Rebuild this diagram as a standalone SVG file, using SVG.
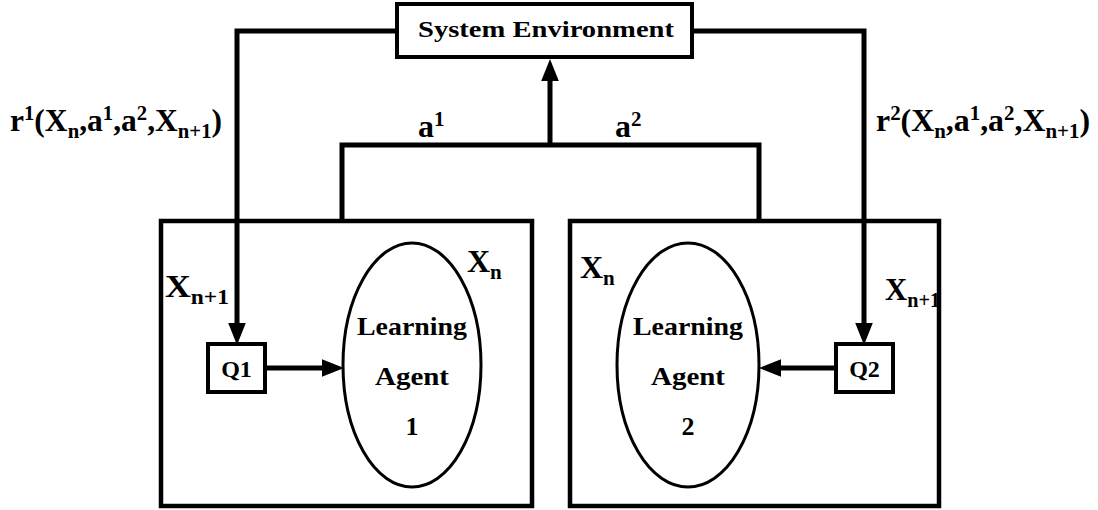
<svg xmlns="http://www.w3.org/2000/svg" width="1098" height="510" viewBox="0 0 1098 510">
<style>
text{font-family:"Liberation Serif","Times New Roman",serif;font-weight:bold;fill:#000}
.box{fill:none;stroke:#000;stroke-width:4.5}
.sm{fill:#fff;stroke:#000;stroke-width:4}
.ell{fill:none;stroke:#000;stroke-width:3}
.wire{fill:none;stroke:#000;stroke-width:5;stroke-linejoin:miter}
</style>
<defs>
<marker id="ah" markerUnits="userSpaceOnUse" markerWidth="22" markerHeight="18" viewBox="0 0 20 16" refX="10" refY="8" orient="auto">
<path d="M0,0 L20,8 L0,16 z" fill="#000"/>
</marker>
</defs>
<g id="env">
<rect x="397" y="4" width="295" height="53" fill="#fff" stroke="#000" stroke-width="4"/>
<text x="546" y="37" font-size="23" text-anchor="middle" textLength="256" lengthAdjust="spacingAndGlyphs">System Environment</text>
</g>
<g id="agent1">
<text x="165" y="297" font-size="32" textLength="64" lengthAdjust="spacingAndGlyphs">X<tspan font-size="21" dy="7">n+1</tspan></text>
<text x="467" y="272" font-size="32">X<tspan font-size="21" dy="7">n</tspan></text>
<rect class="box" x="161" y="221" width="371" height="285"/>
<ellipse class="ell" cx="412" cy="365" rx="69" ry="122"/>
<text x="412" y="335" font-size="26" text-anchor="middle" textLength="110" lengthAdjust="spacingAndGlyphs">Learning</text>
<text x="412" y="385" font-size="26" text-anchor="middle" textLength="74" lengthAdjust="spacingAndGlyphs">Agent</text>
<text x="412" y="435" font-size="26" text-anchor="middle">1</text>
</g>
<g id="q1">
<rect class="sm" x="208" y="344" width="57" height="48"/>
<text x="236.5" y="377" font-size="24" text-anchor="middle">Q1</text>
</g>
<g id="agent2">
<text x="580" y="278" font-size="32">X<tspan font-size="21" dy="7">n</tspan></text>
<text x="885" y="300" font-size="32" textLength="55" lengthAdjust="spacingAndGlyphs">X<tspan font-size="21" dy="7">n+1</tspan></text>
<rect class="box" x="570" y="221" width="369" height="285"/>
<ellipse class="ell" cx="688" cy="365" rx="71" ry="122"/>
<text x="688" y="335" font-size="26" text-anchor="middle" textLength="110" lengthAdjust="spacingAndGlyphs">Learning</text>
<text x="688" y="385" font-size="26" text-anchor="middle" textLength="74" lengthAdjust="spacingAndGlyphs">Agent</text>
<text x="688" y="435" font-size="26" text-anchor="middle">2</text>
</g>
<g id="q2">
<rect class="sm" x="836" y="344" width="57" height="48"/>
<text x="864.5" y="377" font-size="24" text-anchor="middle">Q2</text>
</g>
<g id="connectors">
<path class="wire" d="M397,31 H237 V334" marker-end="url(#ah)"/>
<path class="wire" d="M692,31 H864 V334" marker-end="url(#ah)"/>
<path class="wire" d="M342,221 V145 H759 V221"/>
<path class="wire" d="M550,145 V70" marker-end="url(#ah)"/>
<path class="wire" d="M265,368 H333" marker-end="url(#ah)"/>
<path class="wire" d="M836,368 H770" marker-end="url(#ah)"/>
</g>
<g id="labels">
<text x="10" y="131" font-size="32" textLength="212" lengthAdjust="spacingAndGlyphs">r<tspan font-size="21" dy="-11">1</tspan><tspan dy="11">(X</tspan><tspan font-size="21" dy="7">n</tspan><tspan dy="-7">,a</tspan><tspan font-size="21" dy="-11">1</tspan><tspan dy="11">,a</tspan><tspan font-size="21" dy="-11">2</tspan><tspan dy="11">,X</tspan><tspan font-size="21" dy="7">n+1</tspan><tspan dy="-7">)</tspan></text>
<text x="418" y="137" font-size="32">a<tspan font-size="21" dy="-11">1</tspan></text>
<text x="615" y="137" font-size="32">a<tspan font-size="21" dy="-11">2</tspan></text>
<text x="876" y="131" font-size="32" textLength="214" lengthAdjust="spacingAndGlyphs">r<tspan font-size="21" dy="-11">2</tspan><tspan dy="11">(X</tspan><tspan font-size="21" dy="7">n</tspan><tspan dy="-7">,a</tspan><tspan font-size="21" dy="-11">1</tspan><tspan dy="11">,a</tspan><tspan font-size="21" dy="-11">2</tspan><tspan dy="11">,X</tspan><tspan font-size="21" dy="7">n+1</tspan><tspan dy="-7">)</tspan></text>
</g>
</svg>
